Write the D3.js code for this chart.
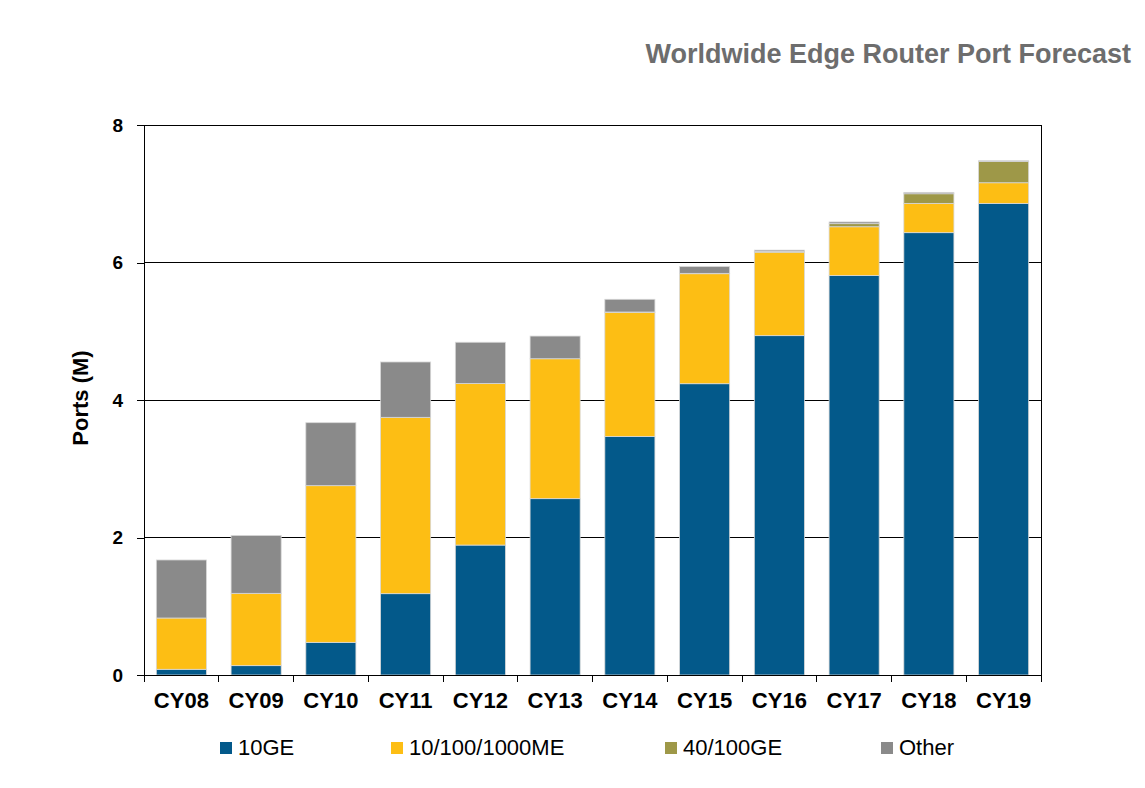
<!DOCTYPE html>
<html>
<head>
<meta charset="utf-8">
<script src="https://cdn.jsdelivr.net/npm/d3@7"></script>
<style>
  body { margin: 0; background: #fff; }
  svg { display: block; font-family: "Liberation Sans", Arial, sans-serif; }
</style>
</head>
<body>
<svg id="chart" width="1145" height="788"></svg>
<script>
const categories = ["CY08","CY09","CY10","CY11","CY12","CY13","CY14","CY15","CY16","CY17","CY18","CY19"];
const seriesNames = ["10GE","10/100/1000ME","40/100GE","Other"];
const ge10   = [0.083, 0.136, 0.475, 1.183, 1.89, 2.565, 3.47, 4.237, 4.936, 5.81, 6.434, 6.86];
const me     = [0.746, 1.052, 2.279, 2.565, 2.35, 2.035, 1.805, 1.6, 1.214, 0.71, 0.426, 0.30];
const ge40   = [0, 0, 0, 0, 0, 0, 0.005, 0.005, 0.01, 0.045, 0.14, 0.31];
const other  = [0.844, 0.842, 0.916, 0.805, 0.60, 0.33, 0.185, 0.098, 0.02, 0.025, 0.02, 0.01];
const yTicks = [0, 2, 4, 6, 8];
const colors = ["#03598A", "#FDBE14", "#9E9848", "#8A8A8A"];

const svg = d3.select("#chart");
const margin = {left: 144, right: 1041, top: 125, bottom: 675};

const x = d3.scaleBand().domain(categories).range([margin.left, margin.right]).paddingInner(0.33).paddingOuter(0.165);
const y = d3.scaleLinear().domain([0, 8]).range([margin.bottom, margin.top]);

const rows = categories.map((c, i) => ({cat: c, "10GE": ge10[i], "10/100/1000ME": me[i], "40/100GE": ge40[i], "Other": other[i]}));
const stack = d3.stack().keys(seriesNames)(rows);

// Gridlines
svg.append("g").selectAll("line").data(yTicks.filter(d => d > 0)).join("line")
  .attr("x1", margin.left).attr("x2", margin.right)
  .attr("y1", d => y(d)).attr("y2", d => y(d))
  .attr("stroke", "#000").attr("stroke-width", 1).attr("shape-rendering", "crispEdges");

// Bars
svg.append("g").selectAll("g").data(stack).join("g")
  .attr("fill", (d, i) => colors[i])
  .selectAll("rect").data(d => d.filter(s => s[1] - s[0] > 0)).join("rect")
  .attr("x", d => x(d.data.cat))
  .attr("width", x.bandwidth())
  .attr("y", d => y(d[1]))
  .attr("height", d => y(d[0]) - y(d[1]))
  .attr("stroke", "#d8d8d8").attr("stroke-width", 0.8);

// Right border
svg.append("line").attr("x1", margin.right).attr("x2", margin.right)
  .attr("y1", margin.top).attr("y2", margin.bottom)
  .attr("stroke", "#000").attr("stroke-width", 1).attr("shape-rendering", "crispEdges");

// Y axis
const yAxis = svg.append("g").attr("transform", `translate(${margin.left},0)`)
  .call(d3.axisLeft(y).tickValues(yTicks).tickSize(7).tickSizeOuter(0).tickPadding(14));
yAxis.selectAll("path, line").attr("stroke", "#000").attr("shape-rendering", "crispEdges");
yAxis.selectAll("text").attr("font-size", 19).attr("font-weight", "bold").attr("fill", "#000")
  .attr("font-family", "Liberation Sans, Arial, sans-serif");

// X axis
const xAxis = svg.append("g").attr("transform", `translate(0,${margin.bottom})`)
  .call(d3.axisBottom(x).tickSize(0).tickSizeOuter(0).tickPadding(17));
xAxis.select("path").attr("stroke", "#000").attr("shape-rendering", "crispEdges");
xAxis.selectAll("text").attr("font-size", 22).attr("font-weight", "bold").attr("fill", "#000")
  .attr("font-family", "Liberation Sans, Arial, sans-serif");
// band boundary ticks
const step = x.step();
const boundaries = d3.range(categories.length + 1).map(i => i === 0 ? margin.left : (i === categories.length ? margin.right : x(categories[i]) - step * x.paddingInner() / 2));
svg.append("g").selectAll("line").data(boundaries).join("line")
  .attr("x1", d => d).attr("x2", d => d)
  .attr("y1", margin.bottom).attr("y2", margin.bottom + 7)
  .attr("stroke", "#000").attr("shape-rendering", "crispEdges");

// Y title
svg.append("text")
  .attr("transform", `translate(88,${(margin.top + margin.bottom) / 2 - 2}) rotate(-90)`)
  .attr("text-anchor", "middle")
  .attr("font-size", 22).attr("font-weight", "bold").attr("fill", "#000")
  .text("Ports (M)");

// Title
svg.append("text")
  .attr("x", 1131).attr("y", 63)
  .attr("text-anchor", "end")
  .attr("font-size", 27).attr("font-weight", "bold").attr("fill", "#6d6d6d")
  .text("Worldwide Edge Router Port Forecast");

// Legend
const legendX = [220, 391, 665, 881];
const lg = svg.append("g").selectAll("g").data(seriesNames).join("g")
  .attr("transform", (d, i) => `translate(${legendX[i]},742)`);
lg.append("rect").attr("width", 12).attr("height", 12).attr("fill", (d, i) => colors[i]);
lg.append("text").attr("x", 18).attr("y", 13)
  .attr("font-size", 22).attr("fill", "#000").text(d => d);
</script>
</body>
</html>
